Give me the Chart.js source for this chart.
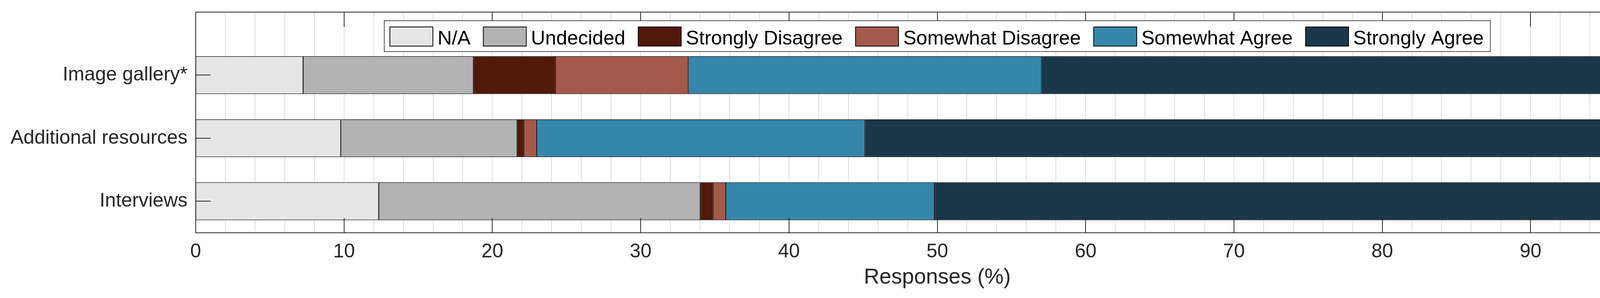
<!DOCTYPE html>
<html>
<head>
<meta charset="utf-8">
<script src="https://cdn.jsdelivr.net/npm/chart.js@4.4.1/dist/chart.umd.min.js"></script>
<style>
html,body{margin:0;padding:0;background:#ffffff;overflow:hidden;}
#wrap{width:4352px;height:763px;}
</style>
</head>
<body>
<div id="wrap"><canvas id="c" width="4352" height="763"></canvas></div>
<script>
// ---------------- DATA ----------------
const categories = ['Image gallery*', 'Additional resources', 'Interviews'];
const seriesNames = ['N/A', 'Undecided', 'Strongly Disagree', 'Somewhat Disagree', 'Somewhat Agree', 'Strongly Agree'];
const naValues               = [7.24, 9.78, 12.34];
const undecidedValues        = [11.48, 11.89, 21.68];
const stronglyDisagreeValues = [5.54, 0.45, 0.87];
const somewhatDisagreeValues = [8.94, 0.87, 0.85];
const somewhatAgreeValues    = [23.83, 22.13, 14.06];
const stronglyAgreeValues    = [42.97, 54.88, 50.20];
const xTickValues = [0, 10, 20, 30, 40, 50, 60, 70, 80, 90, 100];
const xAxisTitle = 'Responses (%)';

// ---------------- STYLE ----------------
const seriesColors = ['#e6e6e6', '#b3b3b3', '#52180a', '#a5594a', '#3686ab', '#1a384a'];
const FONT = '"Liberation Sans", Arial, Helvetica, sans-serif';
const AXIS_COLOR = '#262626';
const TICK_LEN = 38;

const allSeries = [naValues, undecidedValues, stronglyDisagreeValues, somewhatDisagreeValues, somewhatAgreeValues, stronglyAgreeValues];
const nCat = categories.length;
// category i is placed at position nCat - i on a linear axis (top to bottom)
const datasets = allSeries.map((vals, s) => ({
  label: seriesNames[s],
  data: vals.map((v, i) => ({ x: v, y: nCat - i })),
  backgroundColor: seriesColors[s],
  borderColor: '#000000',
  borderWidth: 1.5,
  borderSkipped: false,
  categoryPercentage: 0.6,
  barPercentage: 1.0
}));

const gridPlugin = {
  id: 'matlabGrid',
  beforeDatasetsDraw(chart) {
    const { ctx, chartArea: { top, bottom }, scales: { x } } = chart;
    ctx.save();
    for (let t = 0; t < xTickValues.length - 1; t++) {
      const a = xTickValues[t], b = xTickValues[t + 1];
      const step = (b - a) / 5;
      for (let k = 0; k < 5; k++) {
        const v = a + k * step;
        if (v === xTickValues[0]) continue;
        const px = Math.round(x.getPixelForValue(v));
        if (k === 0) {
          ctx.setLineDash([]);
          ctx.strokeStyle = '#dfdfdf';
          ctx.lineWidth = 2;
        } else {
          ctx.setLineDash([2.5, 1.5]);
          ctx.strokeStyle = '#c6c6c6';
          ctx.lineWidth = 2;
        }
        ctx.beginPath();
        ctx.moveTo(px, top);
        ctx.lineTo(px, bottom);
        ctx.stroke();
      }
    }
    ctx.restore();
  },
  afterDatasetsDraw(chart) {
    const { ctx, chartArea: { top, bottom, left, right }, scales: { x, y } } = chart;
    ctx.save();
    ctx.setLineDash([]);
    ctx.strokeStyle = AXIS_COLOR;
    ctx.lineWidth = 2;
    ctx.beginPath();
    xTickValues.forEach(v => {
      const px = Math.round(x.getPixelForValue(v));
      ctx.moveTo(px, top); ctx.lineTo(px, top + TICK_LEN);
      ctx.moveTo(px, bottom); ctx.lineTo(px, bottom - TICK_LEN);
    });
    y.ticks.forEach(t => {
      const py = Math.round(y.getPixelForValue(t.value));
      ctx.moveTo(left, py); ctx.lineTo(left + TICK_LEN, py);
      ctx.moveTo(right, py); ctx.lineTo(right - TICK_LEN, py);
    });
    ctx.stroke();
    ctx.strokeRect(left, top, right - left, bottom - top);
    ctx.restore();
  },
  afterDraw(chart) {
    // legend inside the axes, at the top centre
    const { ctx, chartArea: { left, right } } = chart;
    const fontSize = 50.5;
    const padL = 14.5, padR = 17, swW = 110, swGap = 12, itemGap = 33;
    const boxTop = 53, boxBottom = 132, swTop = 69, swH = 49, baseY = 114;
    ctx.save();
    ctx.font = fontSize + 'px ' + FONT;
    const widths = chart.data.datasets.map(d => ctx.measureText(d.label).width);
    let total = padL + padR;
    widths.forEach((w, i) => { total += swW + swGap + w + (i < widths.length - 1 ? itemGap : 0); });
    const boxLeft = (left + right) / 2 - total / 2;
    ctx.fillStyle = '#ffffff';
    ctx.fillRect(boxLeft, boxTop, total, boxBottom - boxTop);
    ctx.strokeStyle = AXIS_COLOR;
    ctx.lineWidth = 1.6;
    ctx.strokeRect(boxLeft, boxTop, total, boxBottom - boxTop);
    let cx = boxLeft + padL;
    chart.data.datasets.forEach((d, i) => {
      ctx.fillStyle = d.backgroundColor;
      ctx.fillRect(cx, swTop, swW, swH);
      ctx.strokeStyle = '#000000';
      ctx.lineWidth = 2;
      ctx.strokeRect(cx, swTop, swW, swH);
      cx += swW + swGap;
      ctx.fillStyle = '#000000';
      ctx.textBaseline = 'alphabetic';
      ctx.textAlign = 'left';
      ctx.fillText(d.label, cx, baseY);
      cx += widths[i] + itemGap;
    });
    ctx.restore();
  }
};

new Chart(document.getElementById('c'), {
  type: 'bar',
  data: { datasets },
  options: {
    indexAxis: 'y',
    responsive: false,
    animation: false,
    devicePixelRatio: 1,
    layout: { padding: { top: 31, right: 54, bottom: 0, left: 0 } },
    plugins: { legend: { display: false }, tooltip: { enabled: false } },
    scales: {
      x: {
        type: 'linear',
        stacked: true,
        min: 0,
        max: 100,
        afterBuildTicks: s => { s.ticks = xTickValues.map(v => ({ value: v })); },
        afterFit: s => { s.height = 167; s.paddingLeft = 0; s.paddingRight = 0; },
        grid: { display: false, drawTicks: false },
        border: { display: false },
        ticks: {
          padding: 19,
          color: AXIS_COLOR,
          font: { family: FONT, size: 50, lineHeight: 1.2 },
          maxRotation: 0,
          autoSkip: false
        },
        title: {
          display: true,
          text: xAxisTitle,
          color: AXIS_COLOR,
          font: { family: FONT, size: 55, lineHeight: 1.2 },
          padding: { top: 0, bottom: 19 }
        }
      },
      y: {
        type: 'linear',
        stacked: true,
        offset: false,
        min: 0.5,
        max: nCat + 1,
        afterBuildTicks: s => { s.ticks = categories.map((c, i) => ({ value: nCat - i })); },
        afterFit: s => { s.width = 501; s.paddingTop = 0; s.paddingBottom = 0; },
        grid: { display: false, drawTicks: false, offset: false },
        border: { display: false },
        ticks: {
          padding: 21,
          color: AXIS_COLOR,
          font: { family: FONT, size: 50, lineHeight: 1.2 },
          autoSkip: false,
          callback: v => categories[nCat - v]
        }
      }
    }
  },
  plugins: [gridPlugin]
});
</script>
</body>
</html>
